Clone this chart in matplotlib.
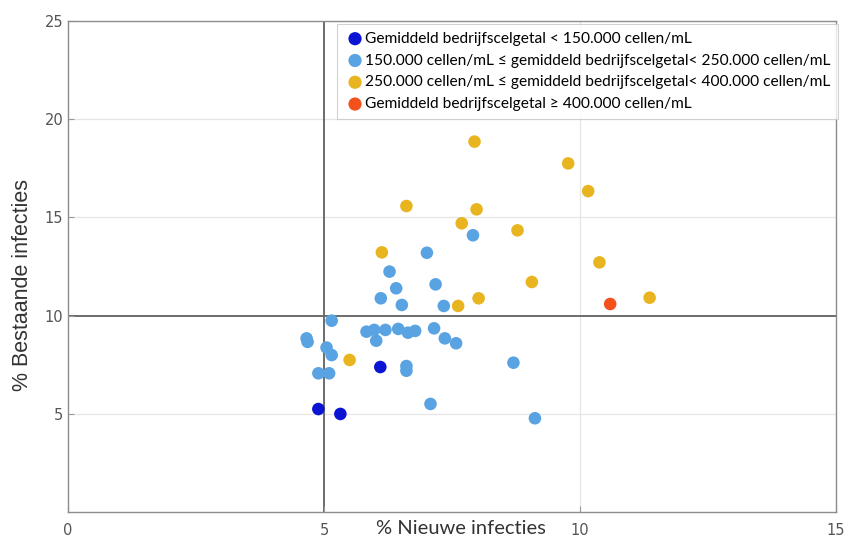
import matplotlib.pyplot as plt

# values
nieuw_laag = [4.89, 5.32, 6.10]
bestaand_laag = [5.24, 4.99, 7.38]

nieuw_midden = [5.15, 4.66, 4.68, 5.05, 5.15, 4.89, 5.10, 5.83, 5.98, 6.02,
                6.20, 6.45, 6.64, 6.78, 7.15, 7.36, 7.58, 6.61, 6.61, 7.08,
                8.70, 9.12, 6.41, 6.11, 6.52, 7.18, 7.34, 7.01, 6.28, 7.91]
bestaand_midden = [9.74, 8.84, 8.66, 8.37, 7.99, 7.06, 7.06, 9.18, 9.27, 8.72,
                   9.27, 9.32, 9.13, 9.22, 9.35, 8.84, 8.59, 7.43, 7.19, 5.50,
                   7.60, 4.77, 11.39, 10.88, 10.54, 11.59, 10.49, 13.20, 12.24, 14.09]

nieuw_hoog = [7.94, 9.77, 10.16, 6.61, 7.98, 7.69, 8.78, 6.13, 10.38, 9.06,
              11.36, 8.02, 7.62, 5.50]
bestaand_hoog = [18.86, 17.75, 16.34, 15.58, 15.41, 14.70, 14.34, 13.22, 12.71,
                 11.71, 10.91, 10.88, 10.49, 7.74]

nieuw_zeer_hoog = [10.59]
bestaand_zeer_hoog = [10.59]

labels = [
    'Gemiddeld bedrijfscelgetal < 150.000 cellen/mL',
    '150.000 cellen/mL \u2264 gemiddeld bedrijfscelgetal< 250.000 cellen/mL',
    '250.000 cellen/mL \u2264 gemiddeld bedrijfscelgetal< 400.000 cellen/mL',
    'Gemiddeld bedrijfscelgetal \u2265 400.000 cellen/mL',
]
colors = ['#0a14d2', '#5aa3e3', '#e8b521', '#f3501c']

x_ticks = [0, 5, 10, 15]
y_ticks = [5, 10, 15, 20, 25]

fig = plt.figure(figsize=(8.5, 5.4), dpi=100)
ax = fig.add_axes([0.08, 0.052, 0.9035, 0.909])

# faint grid and the two reference lines
for gx in [10]:
    ax.axvline(gx, color='#e6e6e6', lw=0.9, zorder=0)
for gy in [5, 15, 20]:
    ax.axhline(gy, color='#e6e6e6', lw=0.9, zorder=0)
ax.axvline(5, color='#6b6b6b', lw=1.4, zorder=1)
ax.axhline(10, color='#6b6b6b', lw=1.4, zorder=1)

groups = [(nieuw_laag, bestaand_laag), (nieuw_midden, bestaand_midden),
          (nieuw_hoog, bestaand_hoog), (nieuw_zeer_hoog, bestaand_zeer_hoog)]
for (xs, ys), c, lab in zip(groups, colors, labels):
    ax.scatter(xs, ys, s=82, color=c, edgecolors='none', label=lab, zorder=3)

ax.set_xlim(0, 15)
ax.set_ylim(0, 25)
ax.set_xticks(x_ticks)
ax.set_yticks(y_ticks)
ax.tick_params(direction='in', length=4, color='#999999', labelcolor='#555555',
               labelsize=10.5)
ax.tick_params(axis='x', pad=8)
for s in ax.spines.values():
    s.set_color('#8c8c8c')
    s.set_linewidth(1.0)

fig.text(461 / 850, 1 - 528 / 540, '% Nieuwe infecties', ha='center', va='center',
         fontsize=14.5, color='#333333', family='Lato')
fig.text(23 / 850, 1 - 285 / 540, '% Bestaande infecties', ha='center', va='center',
         rotation=90, fontsize=15.5, color='#333333', family='Liberation Sans')

leg = ax.legend(loc='upper right', bbox_to_anchor=(1.003, 0.994), frameon=True,
                fancybox=False, prop={'family': 'Lato', 'size': 11.2},
                handletextpad=0.0, labelspacing=0.5, borderpad=0.5,
                handlelength=1.3, markerscale=1.05, borderaxespad=0.0)
leg.get_frame().set_edgecolor('#c8c8c8')
leg.get_frame().set_linewidth(0.8)

fig.savefig('out.png', dpi=100)
